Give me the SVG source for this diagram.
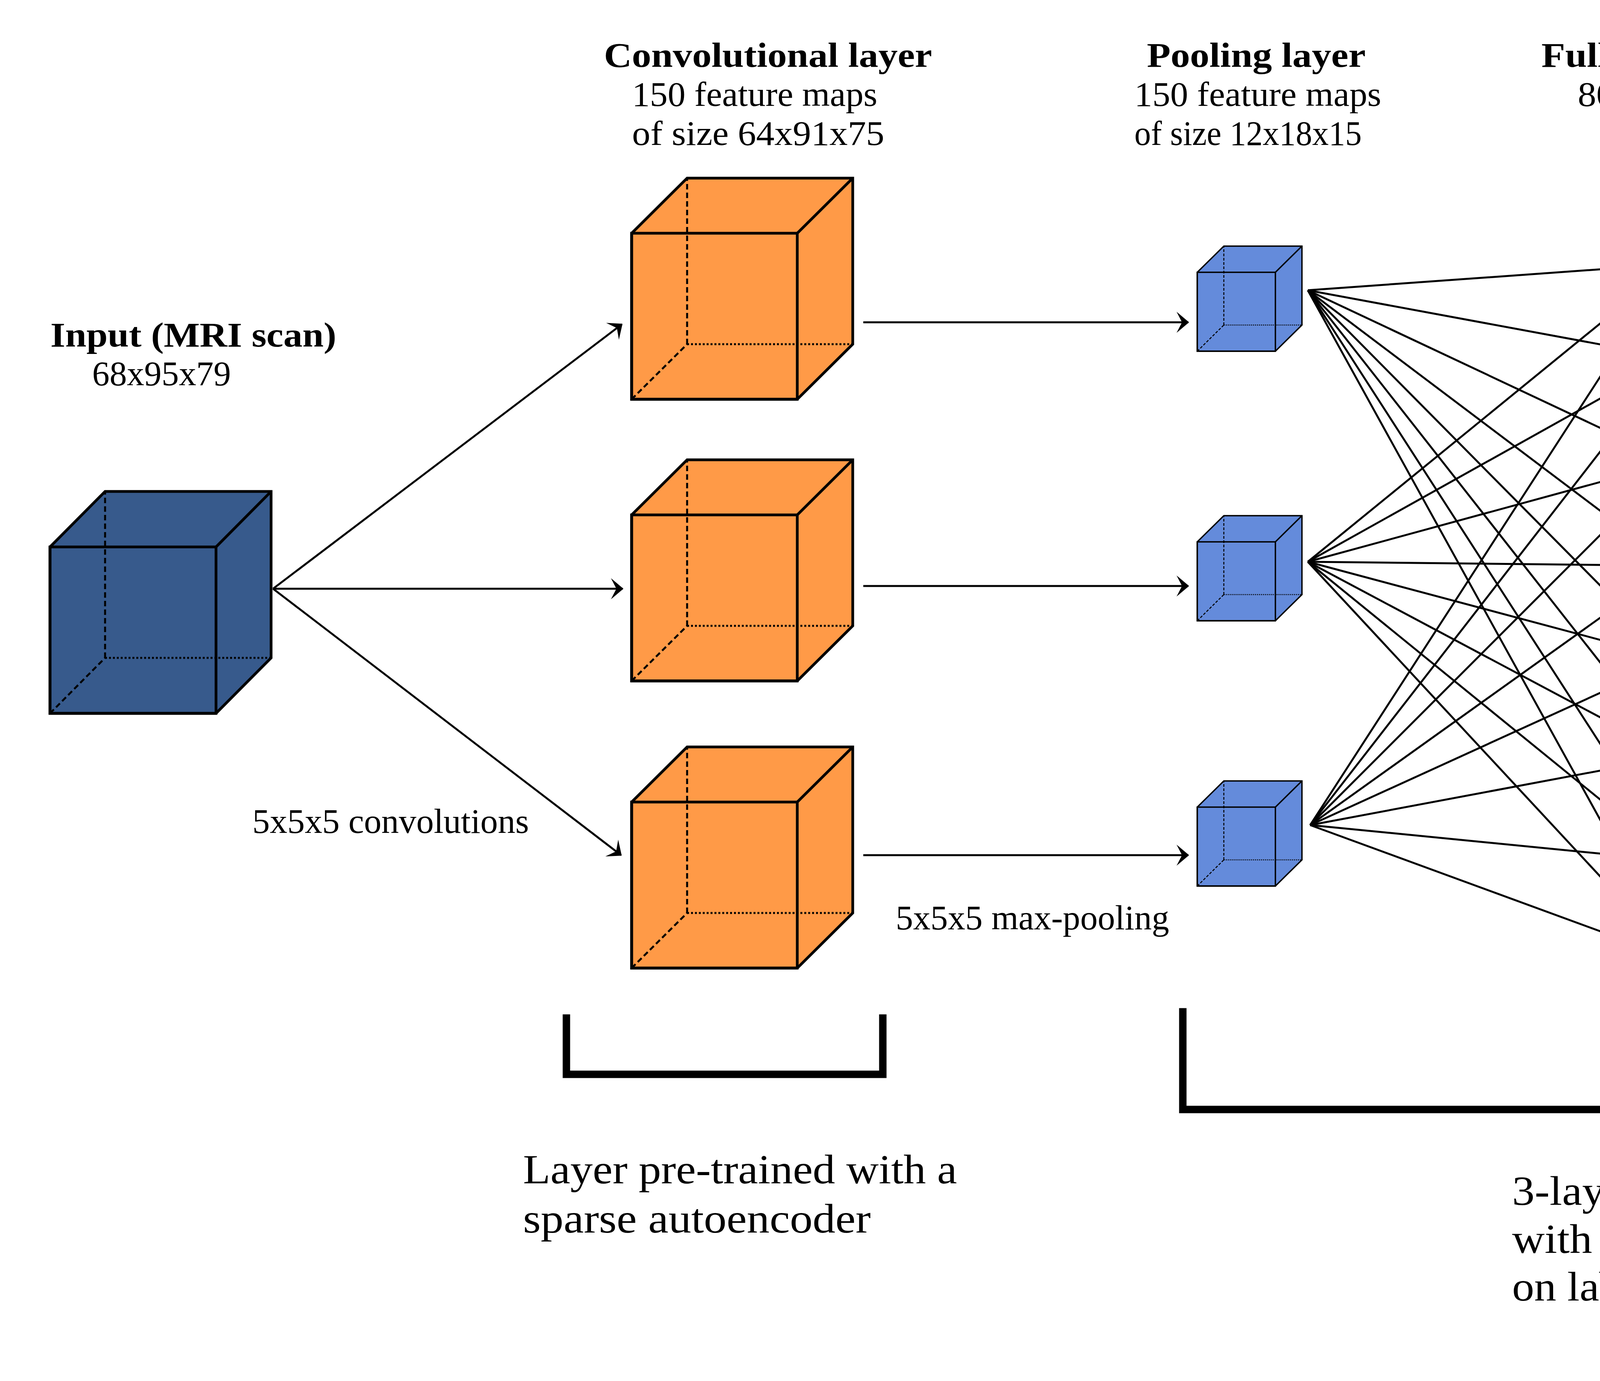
<svg xmlns="http://www.w3.org/2000/svg" width="5600" height="3535" viewBox="0 0 5600 3535">
<style>
.t{font-family:"Liberation Serif","Times New Roman",serif;font-size:88px;fill:#000}
.b{font-weight:bold}
.big{font-size:106px}
.c{stroke:#000;stroke-width:5;fill:none;marker-end:url(#ah)}
.fc{stroke:none}
.e{stroke:#000;stroke-width:7;fill:none;stroke-linejoin:miter}
.hd{stroke:#000;stroke-width:5;stroke-dasharray:14 8;fill:none}
.ht{stroke:#000;stroke-width:5;stroke-dasharray:5 5;fill:none}
.es{stroke:#000;stroke-width:3.5;fill:none}
.hds{stroke:#000;stroke-width:2.5;stroke-dasharray:7 4;fill:none}
.hts{stroke:#000;stroke-width:2.5;stroke-dasharray:2.5 2.5;fill:none}
.hid{fill:none;stroke:#FD9A48;stroke-width:14}
.out{fill:none;stroke:#6A8FDD;stroke-width:13}
.br{fill:none;stroke:#000;stroke-width:19;stroke-linecap:square}
</style>
<defs>
<marker id="ah" markerUnits="userSpaceOnUse" orient="auto" overflow="visible" refX="0" refY="0" markerWidth="1" markerHeight="1">
<path d="M2,0 L-30,-27 L-16,0 L-30,27 Z" fill="#000"/>
</marker>
</defs>
<rect width="5600" height="3535" fill="#fff"/>

<g id="connectors">
<line class="c" x1="699" y1="1507" x2="1592" y2="830"/>
<line class="c" x1="699" y1="1507" x2="1594" y2="1507"/>
<line class="c" x1="699" y1="1507" x2="1590" y2="2189"/>
<line class="c" x1="2210" y1="825" x2="3042" y2="825"/>
<line class="c" x1="2210" y1="1500" x2="3042" y2="1500"/>
<line class="c" x1="2210" y1="2189" x2="3042" y2="2189"/>

<line class="c" x1="3348" y1="743" x2="4283" y2="676"/>
<line class="c" x1="3348" y1="743" x2="4283" y2="916"/>
<line class="c" x1="3348" y1="743" x2="4283" y2="1183"/>
<line class="c" x1="3348" y1="743" x2="4283" y2="1448"/>
<line class="c" x1="3348" y1="743" x2="4284" y2="1688"/>
<line class="c" x1="3348" y1="743" x2="4286" y2="1937"/>
<line class="c" x1="3348" y1="743" x2="4290" y2="2204"/>
<line class="c" x1="3348" y1="743" x2="4294" y2="2456"/>

<line class="c" x1="3348" y1="1438" x2="4283" y2="676"/>
<line class="c" x1="3348" y1="1438" x2="4283" y2="916"/>
<line class="c" x1="3348" y1="1438" x2="4283" y2="1183"/>
<line class="c" x1="3348" y1="1438" x2="4283" y2="1448"/>
<line class="c" x1="3348" y1="1438" x2="4284" y2="1688"/>
<line class="c" x1="3348" y1="1438" x2="4286" y2="1937"/>
<line class="c" x1="3348" y1="1438" x2="4290" y2="2204"/>
<line class="c" x1="3348" y1="1438" x2="4294" y2="2456"/>

<line class="c" x1="3354" y1="2112" x2="4283" y2="676"/>
<line class="c" x1="3354" y1="2112" x2="4283" y2="916"/>
<line class="c" x1="3354" y1="2112" x2="4283" y2="1183"/>
<line class="c" x1="3354" y1="2112" x2="4283" y2="1448"/>
<line class="c" x1="3354" y1="2112" x2="4284" y2="1688"/>
<line class="c" x1="3354" y1="2112" x2="4286" y2="1937"/>
<line class="c" x1="3354" y1="2112" x2="4290" y2="2204"/>
<line class="c" x1="3354" y1="2112" x2="4294" y2="2456"/>

<line class="c" x1="4435" y1="686" x2="5352" y2="1092"/>
<line class="c" x1="4435" y1="686" x2="5352" y2="1447"/>
<line class="c" x1="4435" y1="686" x2="5352" y2="1807"/>
<line class="c" x1="4435" y1="926" x2="5352" y2="1092"/>
<line class="c" x1="4435" y1="926" x2="5352" y2="1447"/>
<line class="c" x1="4435" y1="926" x2="5352" y2="1807"/>
<line class="c" x1="4435" y1="1193" x2="5352" y2="1092"/>
<line class="c" x1="4435" y1="1193" x2="5352" y2="1447"/>
<line class="c" x1="4435" y1="1193" x2="5352" y2="1807"/>
<line class="c" x1="4435" y1="1458" x2="5352" y2="1092"/>
<line class="c" x1="4435" y1="1458" x2="5352" y2="1447"/>
<line class="c" x1="4435" y1="1458" x2="5352" y2="1807"/>
<line class="c" x1="4436" y1="1698" x2="5352" y2="1092"/>
<line class="c" x1="4436" y1="1698" x2="5352" y2="1447"/>
<line class="c" x1="4436" y1="1698" x2="5352" y2="1807"/>
<line class="c" x1="4438" y1="1947" x2="5352" y2="1092"/>
<line class="c" x1="4438" y1="1947" x2="5352" y2="1447"/>
<line class="c" x1="4438" y1="1947" x2="5352" y2="1807"/>
<line class="c" x1="4442" y1="2214" x2="5352" y2="1092"/>
<line class="c" x1="4442" y1="2214" x2="5352" y2="1447"/>
<line class="c" x1="4442" y1="2214" x2="5352" y2="1807"/>
<line class="c" x1="4446" y1="2466" x2="5352" y2="1092"/>
<line class="c" x1="4446" y1="2466" x2="5352" y2="1447"/>
<line class="c" x1="4446" y1="2466" x2="5352" y2="1807"/>
</g>

<g id="input">
<polygon fill="#375A8C" class="fc" points="128,1400 269,1258 694,1258 694,1684 553,1826 128,1826"/>
<line class="hd" x1="269" y1="1684" x2="269" y2="1258"/>
<line class="ht" x1="269" y1="1684" x2="694" y2="1684"/>
<line class="hd" x1="128" y1="1826" x2="269" y2="1684"/>
<polygon class="e" points="128,1400 269,1258 694,1258 694,1684 553,1826 128,1826"/>
<rect class="e" x="128" y="1400" width="425" height="426"/>
<line class="e" x1="553" y1="1400" x2="694" y2="1258"/>
</g>

<g id="conv1">
<polygon fill="#FF9A47" class="fc" points="1617,597 1759,456 2183,456 2183,881 2041,1022 1617,1022"/>
<line class="hd" x1="1759" y1="881" x2="1759" y2="456"/>
<line class="ht" x1="1759" y1="881" x2="2183" y2="881"/>
<line class="hd" x1="1617" y1="1022" x2="1759" y2="881"/>
<polygon class="e" points="1617,597 1759,456 2183,456 2183,881 2041,1022 1617,1022"/>
<rect class="e" x="1617" y="597" width="424" height="425"/>
<line class="e" x1="2041" y1="597" x2="2183" y2="456"/>
</g>
<g id="conv2">
<polygon fill="#FF9A47" class="fc" points="1617,1318 1759,1177 2183,1177 2183,1602 2041,1743 1617,1743"/>
<line class="hd" x1="1759" y1="1602" x2="1759" y2="1177"/>
<line class="ht" x1="1759" y1="1602" x2="2183" y2="1602"/>
<line class="hd" x1="1617" y1="1743" x2="1759" y2="1602"/>
<polygon class="e" points="1617,1318 1759,1177 2183,1177 2183,1602 2041,1743 1617,1743"/>
<rect class="e" x="1617" y="1318" width="424" height="425"/>
<line class="e" x1="2041" y1="1318" x2="2183" y2="1177"/>
</g>
<g id="conv3">
<polygon fill="#FF9A47" class="fc" points="1617,2053 1759,1912 2183,1912 2183,2337 2041,2478 1617,2478"/>
<line class="hd" x1="1759" y1="2337" x2="1759" y2="1912"/>
<line class="ht" x1="1759" y1="2337" x2="2183" y2="2337"/>
<line class="hd" x1="1617" y1="2478" x2="1759" y2="2337"/>
<polygon class="e" points="1617,2053 1759,1912 2183,1912 2183,2337 2041,2478 1617,2478"/>
<rect class="e" x="1617" y="2053" width="424" height="425"/>
<line class="e" x1="2041" y1="2053" x2="2183" y2="1912"/>
</g>

<g id="pool1">
<polygon fill="#648BDB" class="fc" points="3065,697 3133,630 3333,630 3333,832 3265,899 3065,899"/>
<line class="hds" x1="3133" y1="832" x2="3133" y2="630"/>
<line class="hts" x1="3133" y1="832" x2="3333" y2="832"/>
<line class="hds" x1="3065" y1="899" x2="3133" y2="832"/>
<polygon class="es" points="3065,697 3133,630 3333,630 3333,832 3265,899 3065,899"/>
<rect class="es" x="3065" y="697" width="200" height="202"/>
<line class="es" x1="3265" y1="697" x2="3333" y2="630"/>
</g>
<g id="pool2">
<polygon fill="#648BDB" class="fc" points="3065,1387 3133,1320 3333,1320 3333,1522 3265,1589 3065,1589"/>
<line class="hds" x1="3133" y1="1522" x2="3133" y2="1320"/>
<line class="hts" x1="3133" y1="1522" x2="3333" y2="1522"/>
<line class="hds" x1="3065" y1="1589" x2="3133" y2="1522"/>
<polygon class="es" points="3065,1387 3133,1320 3333,1320 3333,1522 3265,1589 3065,1589"/>
<rect class="es" x="3065" y="1387" width="200" height="202"/>
<line class="es" x1="3265" y1="1387" x2="3333" y2="1320"/>
</g>
<g id="pool3">
<polygon fill="#648BDB" class="fc" points="3065,2066 3133,1999 3333,1999 3333,2201 3265,2268 3065,2268"/>
<line class="hds" x1="3133" y1="2201" x2="3133" y2="1999"/>
<line class="hts" x1="3133" y1="2201" x2="3333" y2="2201"/>
<line class="hds" x1="3065" y1="2268" x2="3133" y2="2201"/>
<polygon class="es" points="3065,2066 3133,1999 3333,1999 3333,2201 3265,2268 3065,2268"/>
<rect class="es" x="3065" y="2066" width="200" height="202"/>
<line class="es" x1="3265" y1="2066" x2="3333" y2="1999"/>
</g>

<g id="hidden">
<circle class="hid" cx="4365" cy="686" r="62"/>
<circle class="hid" cx="4365" cy="926" r="62"/>
<circle class="hid" cx="4365" cy="1193" r="62"/>
<circle class="hid" cx="4365" cy="1458" r="62"/>
<circle class="hid" cx="4366" cy="1698" r="62"/>
<circle class="hid" cx="4368" cy="1947" r="62"/>
<circle class="hid" cx="4372" cy="2214" r="62"/>
<circle class="hid" cx="4376" cy="2466" r="62"/>
</g>

<g id="output">
<circle class="out" cx="5423" cy="1100" r="56"/>
<circle class="out" cx="5423" cy="1455" r="56"/>
<circle class="out" cx="5423" cy="1815" r="56"/>
</g>

<g id="brackets">
<path class="br" d="M1450,2606 V2750 H2260 V2606"/>
<path class="br" d="M3028,2590 V2840 H5518 V2590"/>
</g>

<g id="labels">
<text class="t b" x="129" y="887" textLength="732" lengthAdjust="spacingAndGlyphs">Input (MRI scan)</text>
<text class="t" x="236" y="986" textLength="355" lengthAdjust="spacingAndGlyphs">68x95x79</text>
<text class="t b" x="1546" y="171" textLength="840" lengthAdjust="spacingAndGlyphs">Convolutional layer</text>
<text class="t" x="1618" y="271" textLength="628" lengthAdjust="spacingAndGlyphs">150 feature maps</text>
<text class="t" x="1618" y="371" textLength="646" lengthAdjust="spacingAndGlyphs">of size 64x91x75</text>
<text class="t b" x="2936" y="171" textLength="560" lengthAdjust="spacingAndGlyphs">Pooling layer</text>
<text class="t" x="2904" y="271" textLength="632" lengthAdjust="spacingAndGlyphs">150 feature maps</text>
<text class="t" x="2904" y="371" textLength="582" lengthAdjust="spacingAndGlyphs">of size 12x18x15</text>
<text class="t b" x="3946" y="171" textLength="922" lengthAdjust="spacingAndGlyphs">Fully-connected layer</text>
<text class="t" x="4039" y="271" textLength="632" lengthAdjust="spacingAndGlyphs">800 hidden units</text>
<text class="t b" x="5054" y="425" textLength="539" lengthAdjust="spacingAndGlyphs">Output layer</text>
<text class="t" x="5054" y="525" textLength="307" lengthAdjust="spacingAndGlyphs">Softmax</text>
<text class="t" x="5054" y="625" textLength="271" lengthAdjust="spacingAndGlyphs" xml:space="preserve">3  units</text>
<text class="t" x="646" y="2132" textLength="708" lengthAdjust="spacingAndGlyphs">5x5x5 convolutions</text>
<text class="t" x="2293" y="2379" textLength="700" lengthAdjust="spacingAndGlyphs">5x5x5 max-pooling</text>
<text class="t big" x="1339" y="3029" textLength="1111" lengthAdjust="spacingAndGlyphs">Layer pre-trained with a</text>
<text class="t big" x="1339" y="3155" textLength="890" lengthAdjust="spacingAndGlyphs">sparse autoencoder</text>
<text class="t big" x="3871" y="3084" textLength="1082" lengthAdjust="spacingAndGlyphs">3-layer network trained</text>
<text class="t big" x="3871" y="3207" textLength="986" lengthAdjust="spacingAndGlyphs">with gradient descent</text>
<text class="t big" x="3871" y="3329" textLength="954" lengthAdjust="spacingAndGlyphs">on labelled examples</text>
</g>
</svg>
